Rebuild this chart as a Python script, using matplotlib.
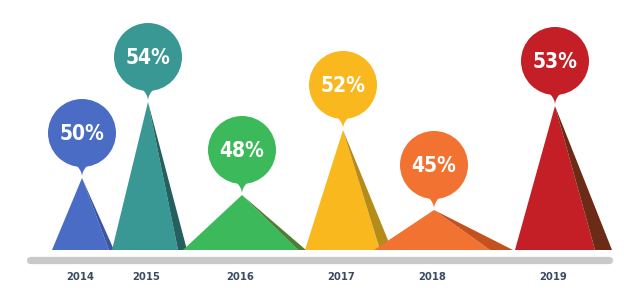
import numpy as np
import matplotlib
matplotlib.use('Agg')
import matplotlib.pyplot as plt
from matplotlib.patches import Polygon, Circle

# chart data
years = ['2014', '2015', '2016', '2017', '2018', '2019']
values = [50, 54, 48, 52, 45, 53]
peak_x = [82, 148, 242, 343, 434, 555]       # apex of each spike
peak_h = [72, 148, 55, 120, 40, 144]         # spike height above the base line
base_left = [52, 112, 183, 305, 374, 515]
base_right = [109, 178, 298, 380, 490, 595]
shade_right = [114, 187, 306, 392, 513, 612]

main_col = ['#4a6cc4', '#3a9894', '#3cb95a', '#f8b81e', '#f27232', '#c41e27']
shade_col = ['#3a55a8', '#23605e', '#4c7f33', '#b58c18', '#c4521f', '#6c2b17']

plt.rcParams['font.family'] = ['DejaVu Sans']

fig = plt.figure(figsize=(6.24, 2.91), dpi=100)
ax = fig.add_axes([0, 0, 1, 1])
ax.set_xlim(0, 624)
ax.set_ylim(-41, 250)
ax.axis('off')

R = 34      # balloon radius
LIFT = 45   # balloon centre above the apex

# grey base bar
ax.plot([30, 609], [-10, -10], color='#c9c9c9', lw=5.2, solid_capstyle='round', zorder=1)

hh = np.linspace(0, 14, 30)
for i in range(len(years)):
    x, h = peak_x[i], peak_h[i]
    # spike body and shaded side
    ax.add_patch(Polygon([(base_left[i], 0), (x, h), (base_right[i], 0)],
                         closed=True, fc=main_col[i], ec='none', zorder=2 + i))
    ax.add_patch(Polygon([(base_right[i], 0), (x, h), (shade_right[i], 0)],
                         closed=True, fc=shade_col[i], ec='none', zorder=2 + i))
    # pin neck between apex and balloon
    w = 8 * (hh / 14) ** 2
    neck = list(zip(x - w, h + 1 + hh)) + list(zip((x + w)[::-1], (h + 1 + hh)[::-1]))
    ax.add_patch(Polygon(neck, closed=True, fc=main_col[i], ec='none', zorder=10))
    # balloon with value
    ax.add_patch(Circle((x, h + LIFT), R, fc=main_col[i], ec='none', zorder=10))
    ax.text(x, h + LIFT - 1, f'{values[i]}%', color='white', fontsize=15,
            fontweight='bold', fontstretch='condensed', ha='center', va='center', zorder=11)
    # year label
    ax.text(x - 2, -27, years[i], color='#3b4a63', fontsize=8,
            fontweight='bold', fontstretch='condensed', ha='center', va='center')

fig.savefig('out.png', dpi=100)
